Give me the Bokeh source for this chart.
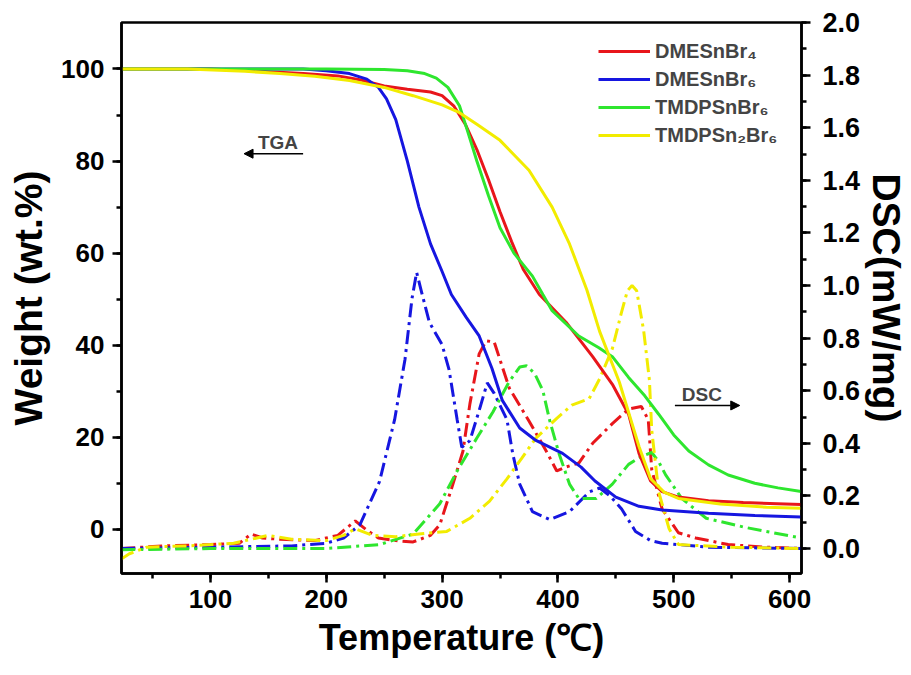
from bokeh.plotting import figure
from bokeh.models import (Range1d, LinearAxis, Legend, LegendItem, Arrow, NormalHead,
                          Label, FixedTicker, PrintfTickFormatter)
from bokeh.embed import file_html
from bokeh.resources import INLINE

# ---------------- data ----------------
series_names = ["DMESnBr\u2084", "DMESnBr\u2086", "TMDPSnBr\u2086", "TMDPSn\u2082Br\u2086"]

# TGA (weight %)
red_tga_T = [23, 60, 100, 120, 150, 180, 210, 230, 250, 270, 290, 300, 310, 320, 330, 340, 350, 360, 370, 384, 407, 430, 447, 461, 470, 480, 490, 504, 530, 560, 610]
red_tga_W = [100, 100, 100, 99.8, 99.4, 99.0, 98.5, 97.6, 96.3, 95.6, 95.0, 94.2, 92.0, 88.0, 82.5, 76.0, 69.0, 62.5, 56.5, 51.0, 45.0, 37.5, 31.5, 25.0, 16.5, 10.5, 8.2, 7.0, 6.2, 5.8, 5.4]

blue_tga_T = [23, 100, 180, 200, 220, 235, 245, 252, 260, 270, 280, 290, 300, 308, 321, 332, 343, 352, 367, 381, 404, 420, 432, 450, 470, 490, 530, 570, 610]
blue_tga_W = [100, 100, 100, 99.6, 99.0, 97.8, 96.0, 93.5, 89.0, 80.0, 70.0, 62.0, 56.0, 51.0, 46.0, 42.0, 35.0, 28.0, 22.0, 19.3, 16.5, 13.5, 10.5, 7.0, 5.0, 4.2, 3.5, 3.0, 2.7]

green_tga_T = [23, 100, 200, 250, 270, 285, 295, 305, 315, 322, 330, 340, 350, 362, 370, 378, 387, 395, 418, 435, 447, 461, 475, 487, 500, 513, 530, 547, 570, 590, 610]
green_tga_W = [100, 100, 100, 99.9, 99.6, 99.0, 98.0, 96.0, 92.0, 86.5, 80.0, 72.5, 65.5, 60.0, 57.5, 55.0, 51.0, 47.5, 42.0, 39.5, 37.5, 33.0, 29.0, 25.0, 20.5, 17.0, 14.0, 11.8, 10.0, 9.0, 8.2]

yellow_tga_T = [23, 80, 130, 160, 190, 220, 250, 275, 300, 315, 330, 350, 375, 395, 410, 425, 436, 453, 470, 480, 492, 504, 540, 580, 610]
yellow_tga_W = [100, 100, 99.5, 99.0, 98.4, 97.5, 96.0, 94.2, 92.2, 90.5, 88.0, 84.5, 78.0, 70.0, 62.0, 52.0, 43.0, 32.0, 18.0, 11.0, 8.0, 6.7, 5.5, 4.8, 4.6]

# DSC (mW/mg)
red_dsc_T = [23, 60, 100, 125, 135, 145, 160, 190, 210, 225, 235, 245, 260, 275, 290, 298, 309, 318, 324, 332, 338, 345, 358, 375, 390, 399, 407, 418, 430, 447, 461, 472, 478, 481, 490, 504, 519, 547, 580, 610]
red_dsc_D = [0.0, 0.01, 0.015, 0.02, 0.055, 0.04, 0.035, 0.03, 0.05, 0.105, 0.07, 0.04, 0.03, 0.025, 0.05, 0.09, 0.24, 0.37, 0.55, 0.74, 0.79, 0.785, 0.61, 0.485, 0.37, 0.295, 0.31, 0.325, 0.40, 0.475, 0.53, 0.54, 0.49, 0.30, 0.15, 0.06, 0.04, 0.015, 0.005, 0.0]

blue_dsc_T = [23, 100, 170, 200, 215, 229, 246, 259, 268, 274, 278, 282, 289, 300, 306, 313, 317, 324, 332, 339, 345, 356, 361, 367, 378, 393, 410, 427, 436, 445, 455, 467, 480, 490, 530, 610]
blue_dsc_D = [0.0, 0.005, 0.01, 0.02, 0.04, 0.09, 0.255, 0.49, 0.72, 0.95, 1.05, 0.98, 0.86, 0.775, 0.68, 0.49, 0.385, 0.41, 0.525, 0.63, 0.59, 0.49, 0.36, 0.245, 0.14, 0.11, 0.14, 0.215, 0.23, 0.2, 0.15, 0.065, 0.03, 0.02, 0.005, 0.0]

green_dsc_T = [23, 100, 200, 246, 275, 298, 313, 330, 344, 358, 367, 373, 380, 387, 393, 401, 410, 418, 433, 447, 461, 472, 481, 487, 493, 507, 528, 562, 610]
green_dsc_D = [-0.005, 0.0, 0.0, 0.015, 0.055, 0.17, 0.295, 0.42, 0.52, 0.635, 0.69, 0.695, 0.665, 0.6, 0.485, 0.36, 0.245, 0.19, 0.19, 0.245, 0.32, 0.35, 0.365, 0.33, 0.28, 0.19, 0.115, 0.08, 0.04]

yellow_dsc_T = [23, 30, 45, 80, 120, 150, 170, 200, 215, 225, 240, 260, 280, 304, 324, 341, 356, 369, 381, 399, 412, 427, 436, 447, 455, 460, 464, 468, 474, 479, 481, 487, 496, 504, 550, 610]
yellow_dsc_D = [-0.04, -0.02, 0.005, 0.01, 0.02, 0.05, 0.035, 0.03, 0.05, 0.075, 0.05, 0.045, 0.055, 0.065, 0.115, 0.18, 0.265, 0.345, 0.42, 0.495, 0.545, 0.57, 0.645, 0.76, 0.9, 0.98, 1.0, 0.98, 0.83, 0.64, 0.45, 0.215, 0.075, 0.015, 0.005, 0.0]

x_ticks = [100, 200, 300, 400, 500, 600]
x_minor = [50, 100, 150, 200, 250, 300, 350, 400, 450, 500, 550, 600]
yl_ticks = [0, 20, 40, 60, 80, 100]
yl_minor = [0, 10, 20, 30, 40, 50, 60, 70, 80, 90, 100]
yr_ticks = [0.0, 0.2, 0.4, 0.6, 0.8, 1.0, 1.2, 1.4, 1.6, 1.8, 2.0]
yr_minor = [round(0.1 * i, 1) for i in range(21)]

# ---------------- styling ----------------
colors = ["#e8161b", "#1616e0", "#2ee62e", "#f2ec00"]
FONT = "Liberation Sans"
W_, H_ = 911, 675

p = figure(width=W_, height=H_, output_backend="svg", toolbar_location=None,
           x_range=Range1d(23.2, 610.3), y_range=Range1d(-9.6, 110.1),
           min_border_left=121, min_border_right=108, min_border_top=22, min_border_bottom=102)
p.extra_y_ranges = {"dsc": Range1d(-0.095, 2.0)}
p.xgrid.visible = False
p.ygrid.visible = False
p.outline_line_color = "black"
p.outline_line_width = 2.5
p.background_fill_color = "white"
p.border_fill_color = "white"

tga = [(red_tga_T, red_tga_W), (blue_tga_T, blue_tga_W), (green_tga_T, green_tga_W), (yellow_tga_T, yellow_tga_W)]
dsc = [(red_dsc_T, red_dsc_D), (blue_dsc_T, blue_dsc_D), (green_dsc_T, green_dsc_D), (yellow_dsc_T, yellow_dsc_D)]

dsc_r = []
for (t, d), c in zip(dsc, colors):
    dsc_r.append(p.line(t, d, y_range_name="dsc", line_color=c, line_width=3,
                        line_dash="14 5 3 5"))
tga_r = []
for (t, w), c in zip(tga, colors):
    tga_r.append(p.line(t, w, line_color=c, line_width=3))

def style_axis(ax, ticks, minor, fsize="26px", tsize="35px"):
    ax.ticker = FixedTicker(ticks=ticks, minor_ticks=minor)
    ax.axis_line_width = 2.5
    ax.major_tick_line_width = 2.5
    ax.minor_tick_line_width = 2.5
    ax.major_tick_out = 9
    ax.major_tick_in = 0
    ax.minor_tick_out = 5
    ax.minor_tick_in = 0
    ax.major_label_text_font = FONT
    ax.major_label_text_font_style = "bold"
    ax.major_label_text_font_size = fsize
    ax.major_label_text_color = "black"
    ax.axis_label_text_font = FONT
    ax.axis_label_text_font_style = "bold"
    ax.axis_label_text_font_size = tsize
    ax.axis_label_text_color = "black"

xa = p.xaxis[0]
style_axis(xa, x_ticks, x_minor, tsize="36px")
xa.axis_label = "Temperature (\u2103)"
xa.major_label_standoff = 7
xa.axis_label_standoff = 6

ya = p.yaxis[0]
style_axis(ya, yl_ticks, yl_minor, tsize="39px")
ya.axis_label = "Weight (wt.%)"
ya.major_label_standoff = 8
ya.axis_label_standoff = 8

ra = LinearAxis(y_range_name="dsc", axis_label="DSC(mW/mg)")
style_axis(ra, yr_ticks, yr_minor, fsize="27px", tsize="39px")
ra.formatter = PrintfTickFormatter(format="%.1f")
ra.major_label_standoff = 12
ra.axis_label_standoff = 2
p.add_layout(ra, "right")

legend = Legend(items=[LegendItem(label=n, renderers=[r]) for n, r in zip(series_names, tga_r)],
                location=(473, 422))
legend.label_text_font = FONT
legend.label_text_font_style = "bold"
legend.label_text_font_size = "20px"
legend.glyph_width = 52
legend.glyph_height = 24
legend.label_height = 24
legend.spacing = 4
legend.padding = 4
legend.margin = 0
legend.label_standoff = 5
legend.border_line_alpha = 0
legend.background_fill_alpha = 0
p.add_layout(legend)

# annotations
p.add_layout(Label(x=141, y=81.8, text="TGA", text_font=FONT, text_font_style="bold",
                   text_font_size="19px", text_baseline="bottom"))
p.add_layout(Arrow(end=NormalHead(size=9, fill_color="black", line_color="black"),
                   x_start=180, y_start=81.6, x_end=129, y_end=81.6, line_width=1.5))
p.add_layout(Label(x=507, y=27.1, text="DSC", text_font=FONT, text_font_style="bold",
                   text_font_size="19px", text_baseline="bottom"))
p.add_layout(Arrow(end=NormalHead(size=9, fill_color="black", line_color="black"),
                   x_start=501, y_start=26.9, x_end=557, y_end=26.9, line_width=1.5))

open("out.html", "w").write(file_html(p, INLINE))
